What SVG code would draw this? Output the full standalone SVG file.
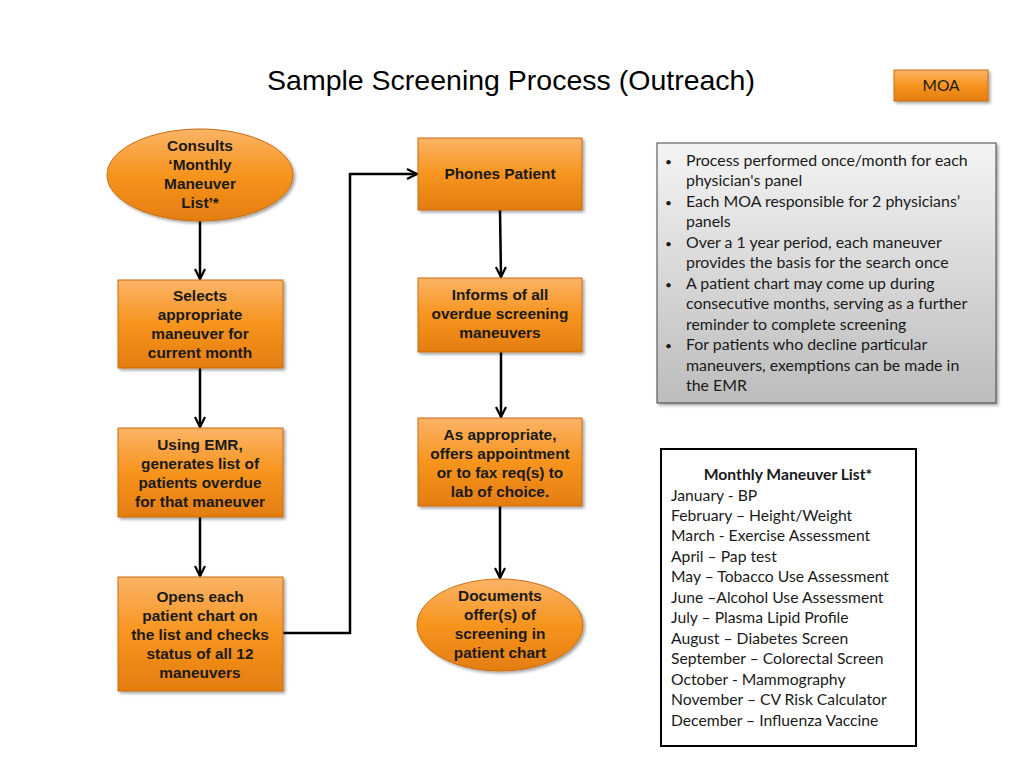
<svg xmlns="http://www.w3.org/2000/svg" width="1024" height="768" viewBox="0 0 1024 768">
<defs>
<linearGradient id="og" x1="0" y1="0" x2="0" y2="1">
<stop offset="0" stop-color="#fbb466"/>
<stop offset="0.5" stop-color="#f7941e"/>
<stop offset="1" stop-color="#e47d10"/>
</linearGradient>
<linearGradient id="gg" x1="0" y1="0" x2="0" y2="1">
<stop offset="0" stop-color="#f4f4f4"/>
<stop offset="1" stop-color="#bcbcbc"/>
</linearGradient>
<filter id="sh" x="-10%" y="-10%" width="130%" height="130%">
<feDropShadow dx="2" dy="2" stdDeviation="1.5" flood-color="#000" flood-opacity="0.35"/>
</filter>
<marker id="ar" viewBox="0 0 12 12" refX="11" refY="6" markerWidth="12" markerHeight="12" markerUnits="userSpaceOnUse" orient="auto">
<path d="M1,1 L11,6 L1,11" fill="none" stroke="#000" stroke-width="2.2"/>
</marker>
</defs>
<style>
.n{fill:url(#og);stroke:#c96d12;stroke-width:1;filter:url(#sh)}
.t{font-family:"Liberation Sans",Arial,sans-serif;font-weight:bold;font-size:15.4px;fill:#1a1a1a;text-anchor:middle}
.c{fill:none;stroke:#000;stroke-width:2.5}
.b{font-family:Lato,"Open Sans",sans-serif;font-size:15.9px;fill:#1a1a1a}
.l{font-family:Lato,"Open Sans",sans-serif;font-size:15.7px;fill:#1a1a1a}
</style>
<rect width="1024" height="768" fill="#fff"/>
<text x="511" y="90" font-family="'Liberation Sans',Arial,sans-serif" font-size="28.5" text-anchor="middle" fill="#000">Sample Screening Process (Outreach)</text>
<g id="moa">
<rect x="894" y="70" width="94" height="31" class="n"/>
<text x="941" y="91" font-family="Lato,'Open Sans',sans-serif" font-size="15.5" text-anchor="middle" fill="#1a1a1a">MOA</text>
</g>
<g id="connectors">
<line x1="200" y1="221" x2="200" y2="279" class="c" marker-end="url(#ar)"/>
<line x1="200" y1="368" x2="200" y2="427" class="c" marker-end="url(#ar)"/>
<line x1="200" y1="517" x2="200" y2="576" class="c" marker-end="url(#ar)"/>
<polyline points="283,633 350,633 350,174 417,174" class="c" marker-end="url(#ar)"/>
<line x1="500" y1="210" x2="501" y2="277" class="c" marker-end="url(#ar)"/>
<line x1="501" y1="352" x2="501" y2="417" class="c" marker-end="url(#ar)"/>
<line x1="500" y1="506" x2="500" y2="578" class="c" marker-end="url(#ar)"/>
</g>
<g id="n1">
<ellipse cx="200" cy="175" rx="93" ry="46" class="n"/>
<text class="t"><tspan x="200" y="151">Consults</tspan><tspan x="200" y="170">‘Monthly</tspan><tspan x="200" y="189">Maneuver</tspan><tspan x="200" y="208">List’*</tspan></text>
</g>
<g id="n2">
<rect x="118" y="280" width="165" height="88" class="n"/>
<text class="t"><tspan x="200" y="301">Selects</tspan><tspan x="200" y="320">appropriate</tspan><tspan x="200" y="339">maneuver for</tspan><tspan x="200" y="358">current month</tspan></text>
</g>
<g id="n3">
<rect x="118" y="428" width="165" height="89" class="n"/>
<text class="t"><tspan x="200" y="450">Using EMR,</tspan><tspan x="200" y="469">generates list of</tspan><tspan x="200" y="488">patients overdue</tspan><tspan x="200" y="507">for that maneuver</tspan></text>
</g>
<g id="n4">
<rect x="118" y="577" width="165" height="114" class="n"/>
<text class="t"><tspan x="200" y="602">Opens each</tspan><tspan x="200" y="621">patient chart on</tspan><tspan x="200" y="640">the list and checks</tspan><tspan x="200" y="659">status of all 12</tspan><tspan x="200" y="678">maneuvers</tspan></text>
</g>
<g id="n5">
<rect x="418" y="138" width="164" height="72" class="n"/>
<text class="t"><tspan x="500" y="179">Phones Patient</tspan></text>
</g>
<g id="n6">
<rect x="418" y="278" width="164" height="74" class="n"/>
<text class="t"><tspan x="500" y="300">Informs of all</tspan><tspan x="500" y="319">overdue screening</tspan><tspan x="500" y="338">maneuvers</tspan></text>
</g>
<g id="n7">
<rect x="418" y="418" width="164" height="88" class="n"/>
<text class="t"><tspan x="500" y="440">As appropriate,</tspan><tspan x="500" y="459">offers appointment</tspan><tspan x="500" y="478">or to fax req(s) to</tspan><tspan x="500" y="497">lab of choice.</tspan></text>
</g>
<g id="n8">
<ellipse cx="500" cy="625" rx="83" ry="46" class="n"/>
<text class="t"><tspan x="500" y="601">Documents</tspan><tspan x="500" y="620">offer(s) of</tspan><tspan x="500" y="639">screening in</tspan><tspan x="500" y="658">patient chart</tspan></text>
</g>
<g id="notes">
<rect x="657" y="143" width="339" height="260" fill="url(#gg)" stroke="#444" stroke-width="1" filter="url(#sh)"/>
<text class="b">
<tspan x="665" y="166" font-size="12">•</tspan><tspan x="686" y="166">Process performed once/month for each</tspan>
<tspan x="686" y="186">physician's panel</tspan>
<tspan x="665" y="207" font-size="12">•</tspan><tspan x="686" y="207">Each MOA responsible for 2 physicians’</tspan>
<tspan x="686" y="227">panels</tspan>
<tspan x="665" y="248" font-size="12">•</tspan><tspan x="686" y="248">Over a 1 year period, each maneuver</tspan>
<tspan x="686" y="268">provides the basis for the search once</tspan>
<tspan x="665" y="289" font-size="12">•</tspan><tspan x="686" y="289">A patient chart may come up during</tspan>
<tspan x="686" y="309">consecutive months, serving as a further</tspan>
<tspan x="686" y="330">reminder to complete screening</tspan>
<tspan x="665" y="350" font-size="12">•</tspan><tspan x="686" y="350">For patients who decline particular</tspan>
<tspan x="686" y="371">maneuvers, exemptions can be made in</tspan>
<tspan x="686" y="391">the EMR</tspan>
</text>
</g>
<g id="list">
<rect x="661" y="449" width="255" height="297" fill="#fff" stroke="#000" stroke-width="2"/>
<text class="l" x="788" y="480" text-anchor="middle" font-weight="bold" font-size="16.6">Monthly Maneuver List*</text>
<text class="l">
<tspan x="671" y="501">January -  BP</tspan>
<tspan x="671" y="521">February – Height/Weight</tspan>
<tspan x="671" y="541">March - Exercise Assessment</tspan>
<tspan x="671" y="562">April – Pap test</tspan>
<tspan x="671" y="582">May – Tobacco Use Assessment</tspan>
<tspan x="671" y="603">June –Alcohol Use Assessment</tspan>
<tspan x="671" y="623">July – Plasma Lipid Profile</tspan>
<tspan x="671" y="644">August – Diabetes Screen</tspan>
<tspan x="671" y="664">September – Colorectal Screen</tspan>
<tspan x="671" y="685">October - Mammography</tspan>
<tspan x="671" y="705">November – CV Risk Calculator</tspan>
<tspan x="671" y="726">December – Influenza Vaccine</tspan>
</text>
</g>
</svg>
